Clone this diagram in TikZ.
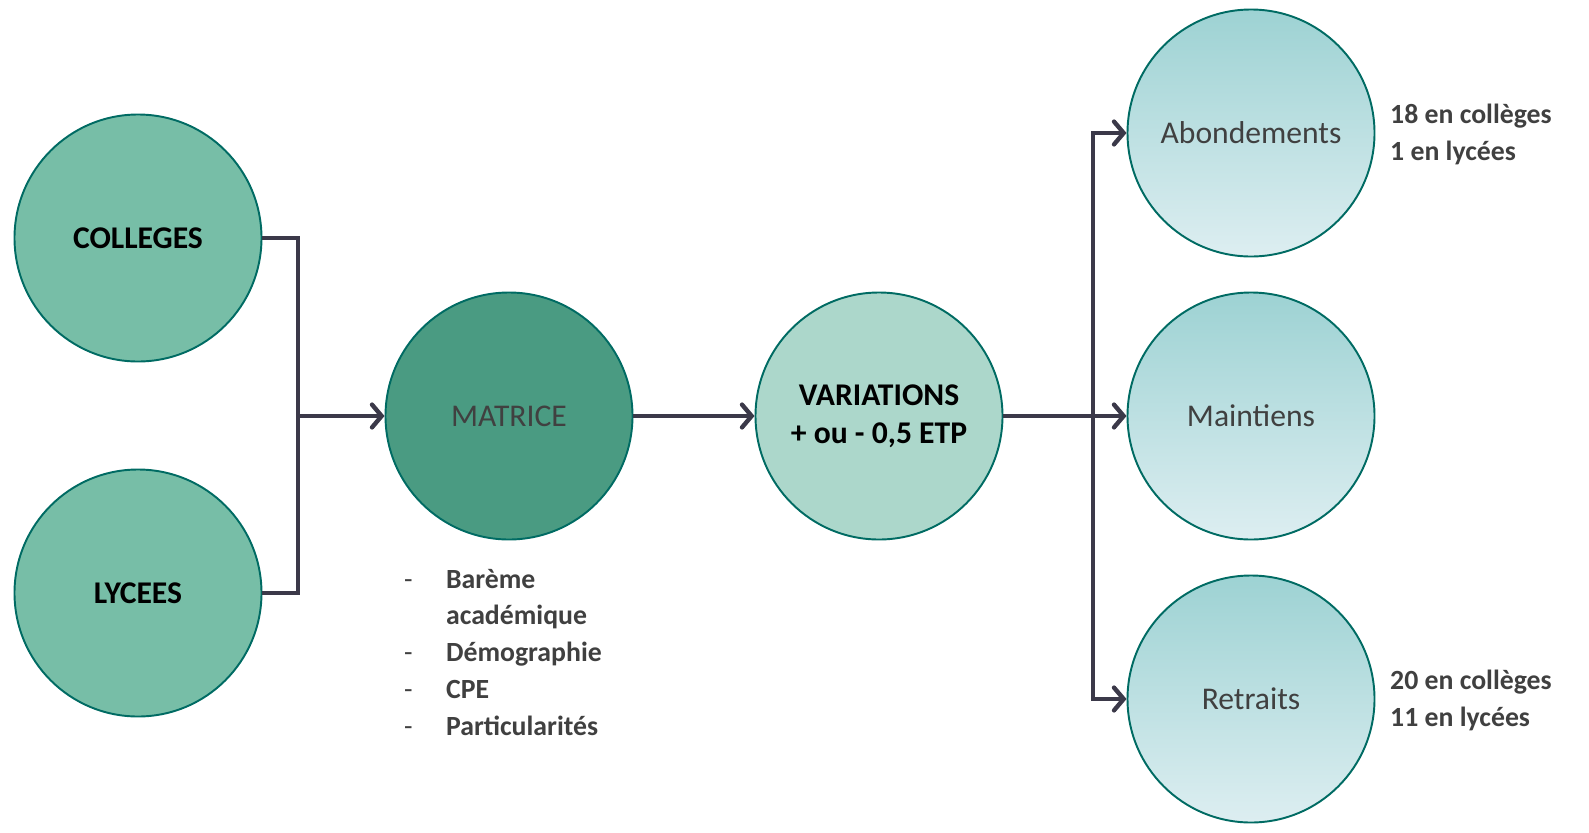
\documentclass[tikz,border=0pt]{standalone}
\usepackage{fontspec}
\setmainfont{Carlito}
\usetikzlibrary{arrows.meta,positioning}
\definecolor{rim}{HTML}{006B63}
\definecolor{linkgrey}{HTML}{3B3949}
\definecolor{txtgrey}{HTML}{404040}
\definecolor{midgreen}{HTML}{77BEA7}
\definecolor{darkgreen}{HTML}{4A9B82}
\definecolor{palegreen}{HTML}{ACD7CB}
\definecolor{bluetop}{HTML}{9DD2D3}
\definecolor{bluebot}{HTML}{DDEEF1}
\begin{document}
\begin{tikzpicture}[x=0.02cm, y=-0.02cm,
      bubble/.style={draw=rim, line width=1.1pt, circle, minimum size=247*0.02cm,
        inner sep=0pt, align=center, font=\fontsize{18}{21.5}\selectfont},
      outcome/.style={bubble, top color=bluetop, bottom color=bluebot, text=txtgrey},
      note/.style={align=left, text=txtgrey, font=\fontsize{15.8}{21}\selectfont\bfseries},
      link/.style={draw=linkgrey, line width=2.5pt},
      arr/.style={link, -{Straight Barb[length=5.5pt, width=13pt, line cap=round, line width=2.5pt]}}]
    \useasboundingbox (0,0) rectangle (1589,832);
    % sources
    \node[bubble, fill=midgreen, font=\fontsize{18}{21.5}\selectfont\bfseries] (col) at (138,238) {COLLEGES};
    \node[bubble, fill=midgreen, font=\fontsize{18}{21.5}\selectfont\bfseries] (lyc) at (138,593) {LYCEES};
    % middle
    \node[bubble, fill=darkgreen, text=txtgrey] (mat) at (509,416) {MATRICE};
    \node[bubble, fill=palegreen, font=\fontsize{18}{21.5}\selectfont\bfseries] (var) at (879,416) {VARIATIONS\\+ ou - 0,5 ETP};
    % outcomes
    \node[outcome] (abo) at (1251,133) {Abondements};
    \node[outcome] (mai) at (1251,416) {Maintiens};
    \node[outcome] (ret) at (1251,699) {Retraits};
    % notes
    \node[note, anchor=north west] (crit) at (398,556) {%
      \begin{tabular}{@{}l@{\hspace{19pt}}l@{}}
      {\mdseries -} & Barème\\
        & académique\\
      {\mdseries -} & Démographie\\
      {\mdseries -} & CPE\\
      {\mdseries -} & Particularités
      \end{tabular}};
    \node[note, anchor=west] (nabo) at (1384,134) {18 en collèges\\1 en lycées};
    \node[note, anchor=west] (nret) at (1384,700) {20 en collèges\\11 en lycées};
    % connectors
    \coordinate (jl) at (298,416);
    \coordinate (jr) at (1093,416);
    \draw[link] (col.east) -| (jl) |- (lyc.east);
    \draw[arr] (jl) -- (mat);
    \draw[arr] (mat) -- (var);
    \draw[link] (var) -- (jr);
    \draw[arr] (jr) |- (abo);
    \draw[arr] (jr) -- (mai);
    \draw[arr] (jr) |- (ret);
\end{tikzpicture}
\end{document}
